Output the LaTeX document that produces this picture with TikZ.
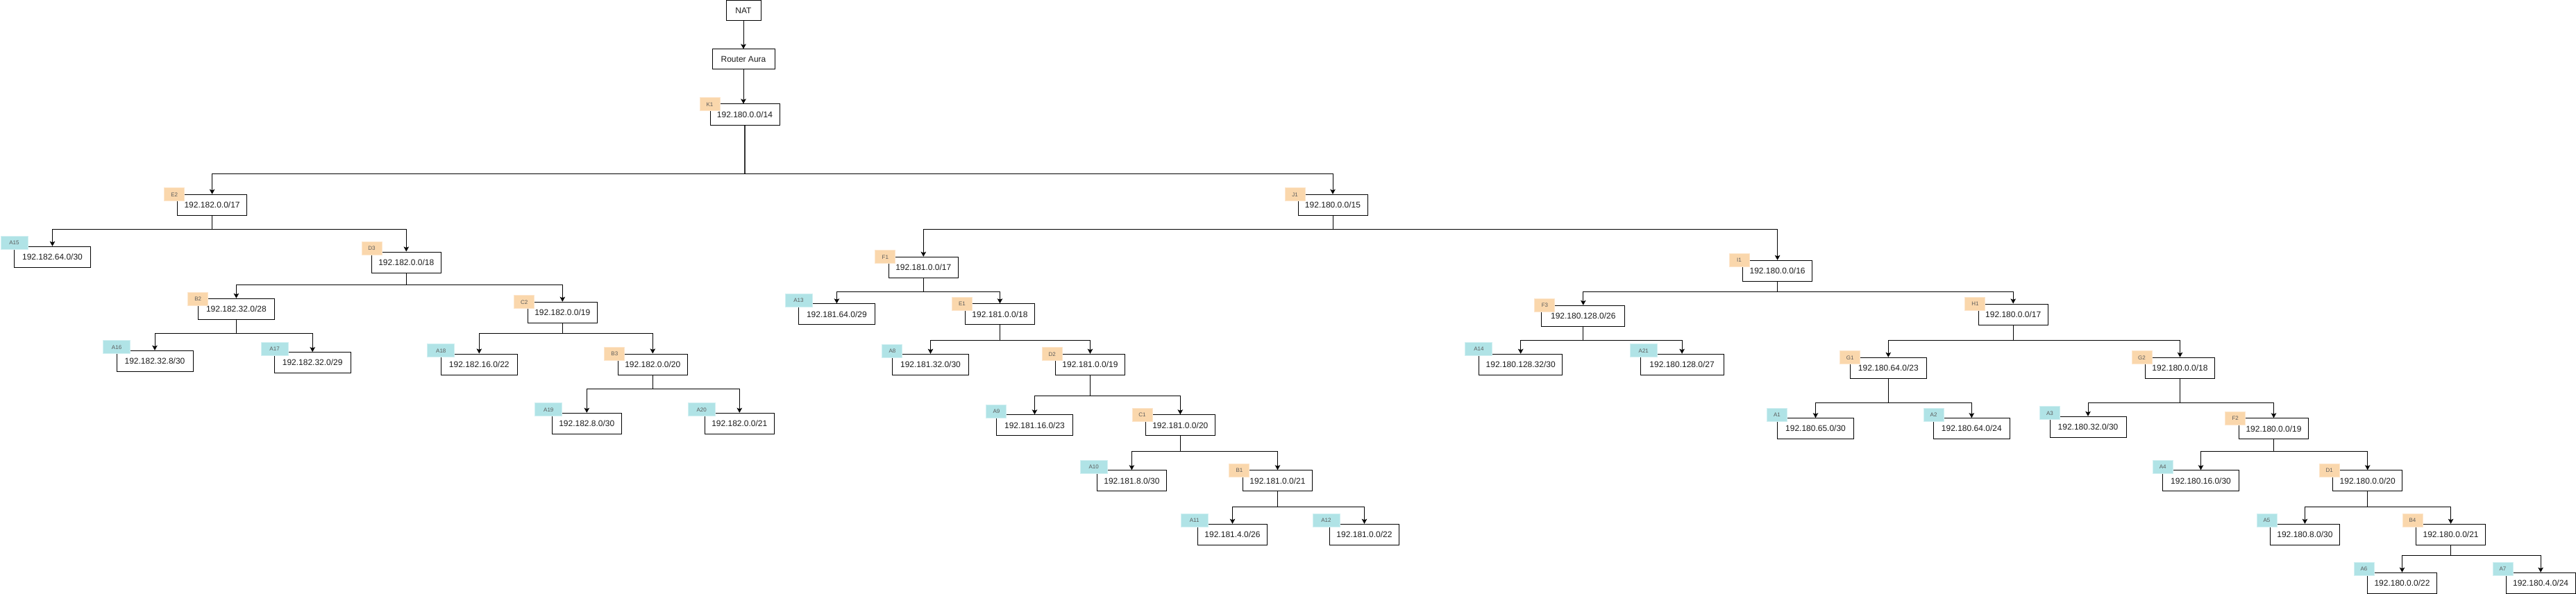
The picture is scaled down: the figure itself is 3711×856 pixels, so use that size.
\documentclass[tikz,border=0pt]{standalone}
\usepackage{fontspec}
\setmainfont{Liberation Sans}
\usetikzlibrary{arrows.meta}
\definecolor{tagor}{HTML}{FAD7AC}
\definecolor{tagorb}{HTML}{FDE6CC}
\definecolor{tagcy}{HTML}{B0E3E6}
\definecolor{tagcyb}{HTML}{D2F0F2}
\definecolor{tagtext}{HTML}{5A5A5A}
\definecolor{boxtext}{HTML}{1A1A1A}
\tikzset{
  box/.style={draw=black, line width=1pt, fill=white, minimum height=30pt, inner sep=0pt,
    font=\fontsize{12}{14}\selectfont, text=boxtext},
  otag/.style={fill=tagor, draw=tagorb, line width=1pt, minimum width=29pt, minimum height=19pt,
    inner sep=0pt, font=\fontsize{8}{9}\selectfont, text=tagtext},
  ctag/.style={fill=tagcy, draw=tagcyb, line width=1pt, minimum width=39pt, minimum height=19pt,
    inner sep=0pt, font=\fontsize{8}{9}\selectfont, text=tagtext},
  conn/.style={line width=1pt, draw=black},
  arr/.style={conn, -{Stealth[length=7pt,width=7.5pt,inset=1.5pt]}},
}
\newcommand{\bx}[4][100]{\node[box, minimum width=#1pt] (#2) at (#3) {#4};}
\newcommand{\otg}[3]{\node[otag] (t#1) at (#2) {#3};}
\newcommand{\ctg}[4][39]{\node[ctag, minimum width=#1pt] (t#2) at (#3) {#4};}
\newcommand{\fork}[4]{\coordinate (j#1) at (#1.south |- 0,#2);
  \draw[conn] (#1.south) -- (j#1);
  \draw[arr] (j#1) -| (#3.north);
  \draw[arr] (j#1) -| (#4.north);}
\begin{document}
\begin{tikzpicture}[x=1pt,y=-1pt]
\useasboundingbox (0,0) rectangle (3711,856);
% root chain
\node[box, minimum width=50pt, minimum height=29pt] (nat) at (1071,15.5) {NAT};
\node[box, minimum width=90pt, minimum height=29pt] (router) at (1071,85.5) {Router Aura};
\bx{k1}{1073,165}{192.180.0.0/14}
% level 1
\bx{e2}{305.6,295.3}{192.182.0.0/17}
\bx{j1}{1920,295.3}{192.180.0.0/15}
% left subtree
\bx[110]{a15}{75.5,370.3}{192.182.64.0/30}
\bx{d3}{585.3,378}{192.182.0.0/18}
\bx[110]{b2}{340.4,445.3}{192.182.32.0/28}
\bx{c2}{810.3,450.3}{192.182.0.0/19}
\bx[110]{a16}{223,520.3}{192.182.32.8/30}
\bx[110]{a17}{450.2,522.7}{192.182.32.0/29}
\bx[110]{a18}{690.3,525}{192.182.16.0/22}
\bx{b3}{940.3,525}{192.182.0.0/20}
\bx{a19}{845.3,610.3}{192.182.8.0/30}
\bx{a20}{1065.3,610.3}{192.182.0.0/21}
% middle subtree
\bx{f1}{1330.3,385.3}{192.181.0.0/17}
\bx[110]{a13}{1205.4,452.8}{192.181.64.0/29}
\bx{e1}{1440.5,452.8}{192.181.0.0/18}
\bx[110]{a8}{1340.5,525.3}{192.181.32.0/30}
\bx{d2}{1570.5,525.3}{192.181.0.0/19}
\bx[110]{a9}{1490.5,612.8}{192.181.16.0/23}
\bx{c1}{1700.3,612.8}{192.181.0.0/20}
\bx{a10}{1630.4,692.8}{192.181.8.0/30}
\bx{b1}{1840.5,692.8}{192.181.0.0/21}
\bx{a11}{1775.5,770.3}{192.181.4.0/26}
\bx{a12}{1965.5,770.3}{192.181.0.0/22}
% right subtree
\bx{i1}{2560.6,390.3}{192.180.0.0/16}
\bx[120]{f3}{2280.8,455.3}{192.180.128.0/26}
\bx{h1}{2900.2,453}{192.180.0.0/17}
\bx[120]{a14}{2190.7,525.3}{192.180.128.32/30}
\bx[120]{a21}{2423.1,525.3}{192.180.128.0/27}
\bx[110]{g1}{2720.3,530.3}{192.180.64.0/23}
\bx{g2}{3140.5,530.3}{192.180.0.0/18}
\bx[110]{a1}{2615.5,617.7}{192.180.65.0/30}
\bx[110]{a2}{2840.3,617.7}{192.180.64.0/24}
\bx[110]{a3}{3008,615.3}{192.180.32.0/30}
\bx{f2}{3275.5,617.8}{192.180.0.0/19}
\bx[110]{a4}{3170.5,692.8}{192.180.16.0/30}
\bx{d1}{3410.7,692.8}{192.180.0.0/20}
\bx{a5}{3320.4,770.3}{192.180.8.0/30}
\bx{b4}{3530.6,770.3}{192.180.0.0/21}
\bx{a6}{3460.5,840.3}{192.180.0.0/22}
\bx{a7}{3660.1,840.3}{192.180.4.0/24}
% connectors
\draw[arr] (nat.south) -- (router.north);
\draw[arr] (router.south) -- (router.south |- k1.north);
\coordinate (jk1) at (k1.south |- 0,250.7);
\draw[line width=2pt, draw=black!80] (k1.south) -- (jk1);
\draw[arr] (jk1) -| (e2.north);
\draw[arr] (jk1) -| (j1.north);
\fork{e2}{330.3}{a15}{d3}
\fork{d3}{410.3}{b2}{c2}
\fork{b2}{480.3}{a16}{a17}
\fork{c2}{480.3}{a18}{b3}
\fork{b3}{560.3}{a19}{a20}
\fork{j1}{330.3}{f1}{i1}
\fork{f1}{420.3}{a13}{e1}
\fork{e1}{490.3}{a8}{d2}
\fork{d2}{570.3}{a9}{c1}
\fork{c1}{650.3}{a10}{b1}
\fork{b1}{730.3}{a11}{a12}
\fork{i1}{420.3}{f3}{h1}
\fork{f3}{490.3}{a14}{a21}
\fork{h1}{490.3}{g1}{g2}
\fork{g1}{580.3}{a1}{a2}
\fork{g2}{580.3}{a3}{f2}
\fork{f2}{650.3}{a4}{d1}
\fork{d1}{730.3}{a5}{b4}
\fork{b4}{800.3}{a6}{a7}
% tags
\otg{k1}{1022.5,150.5}{K1}
\otg{e2}{251.3,280.4}{E2}
\otg{j1}{1865.5,280.4}{J1}
\ctg{a15}{20.5,350}{A15}
\otg{d3}{535.5,357.9}{D3}
\otg{b2}{285.3,430.5}{B2}
\otg{c2}{755.3,435.3}{C2}
\ctg{a16}{168.1,500.4}{A16}
\ctg{a17}{395.6,503}{A17}
\ctg{a18}{635.3,505.3}{A18}
\otg{b3}{885.3,510}{B3}
\ctg{a19}{790.3,590.3}{A19}
\ctg{a20}{1010.7,590.3}{A20}
\otg{f1}{1275.3,370.3}{F1}
\ctg{a13}{1150.5,433}{A13}
\otg{e1}{1385.9,438}{E1}
\ctg[29]{a8}{1285.4,505.5}{A8}
\otg{d2}{1515.6,510.3}{D2}
\ctg[29]{a9}{1435.4,593}{A9}
\otg{c1}{1645.5,598}{C1}
\ctg{a10}{1575.7,673}{A10}
\otg{b1}{1785.4,678}{B1}
\ctg{a11}{1720.7,750.2}{A11}
\ctg{a12}{1910.5,750.2}{A12}
\otg{i1}{2505.5,375.2}{I1}
\otg{f3}{2225.4,440.2}{F3}
\otg{h1}{2845.4,437.9}{H1}
\ctg{a14}{2130.4,503}{A14}
\ctg{a21}{2367.8,505.4}{A21}
\otg{g1}{2665.3,515.3}{G1}
\otg{g2}{3085.5,515.3}{G2}
\ctg[29]{a1}{2560,598}{A1}
\ctg[29]{a2}{2785.6,598}{A2}
\ctg[29]{a3}{2953,595.4}{A3}
\otg{f2}{3220.2,602.9}{F2}
\ctg[29]{a4}{3115.7,673}{A4}
\otg{d1}{3355.6,678}{D1}
\ctg[29]{a5}{3265.5,750.2}{A5}
\otg{b4}{3475.5,750.2}{B4}
\ctg[29]{a6}{3405.5,820.2}{A6}
\ctg[29]{a7}{3605.5,820.2}{A7}
\end{tikzpicture}
\end{document}
